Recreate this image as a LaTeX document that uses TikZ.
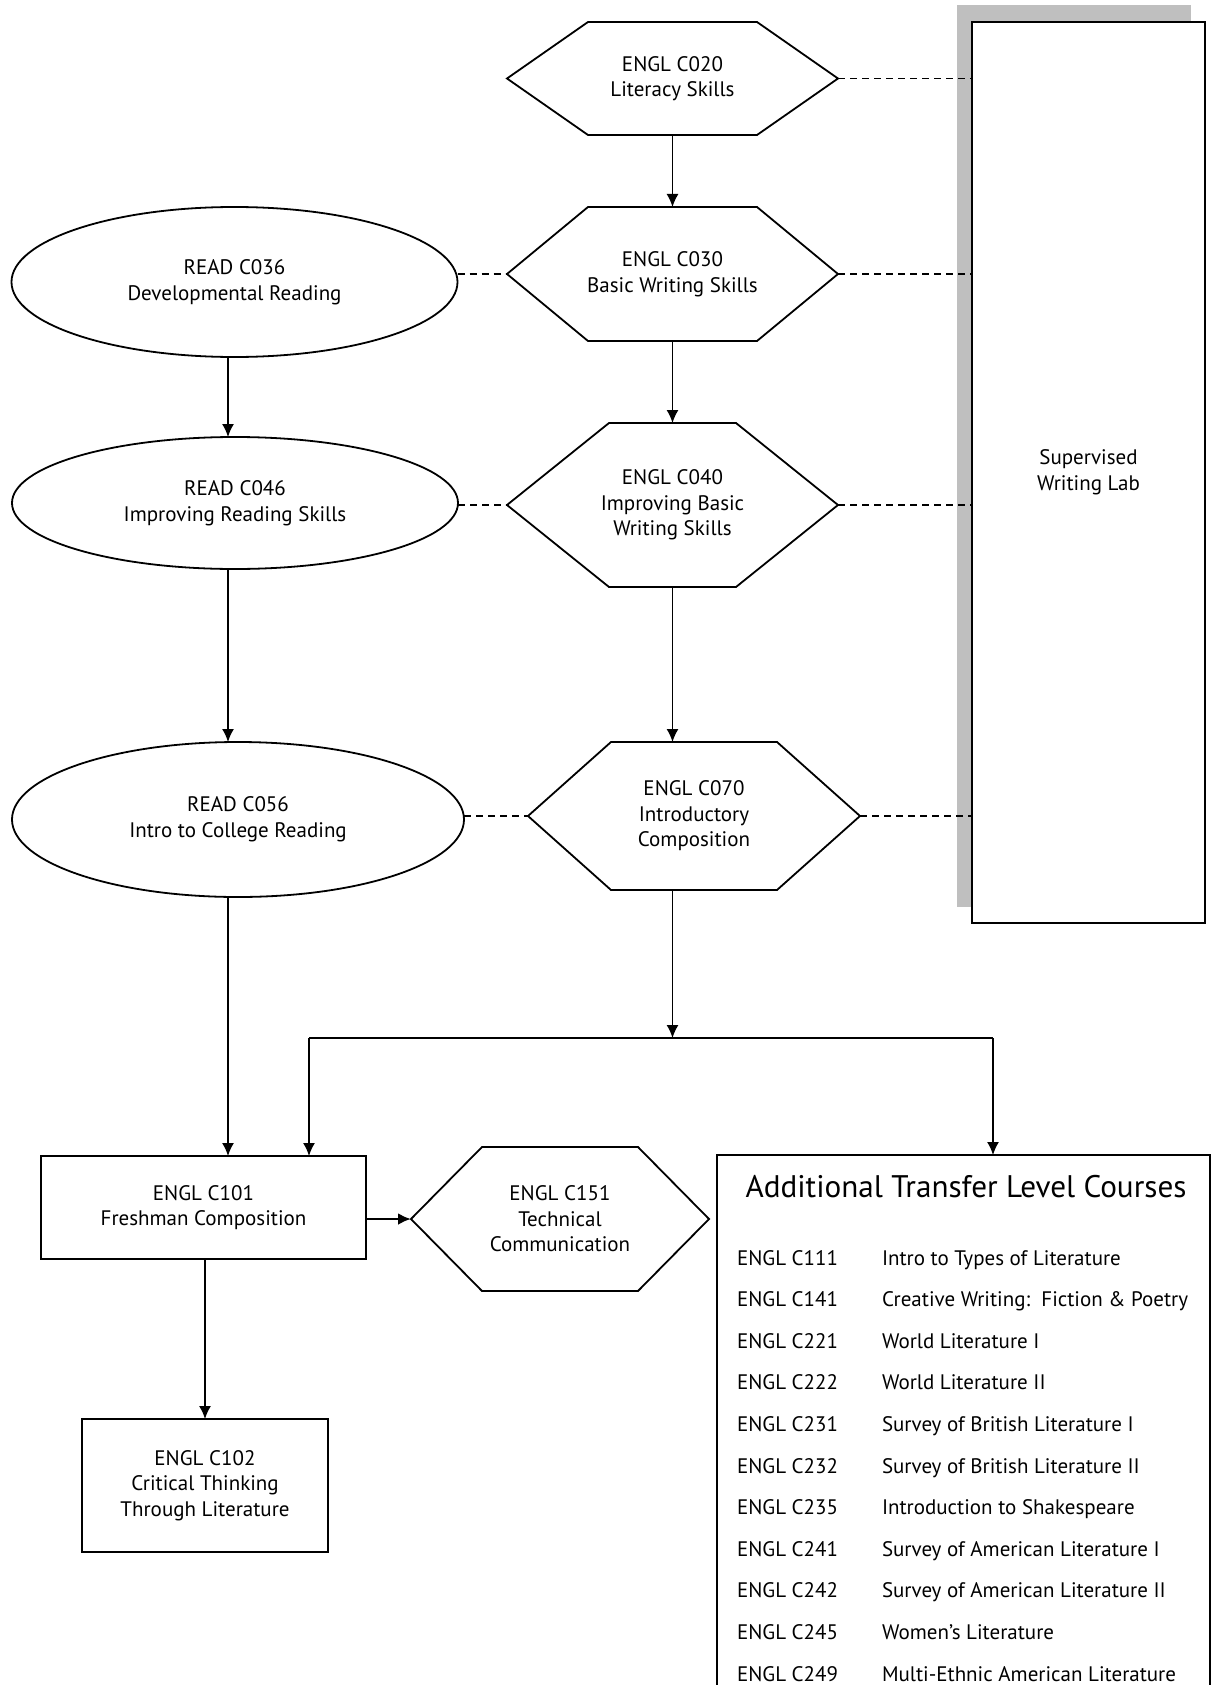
\documentclass[tikz,border=0pt]{standalone}
\usepackage{fontspec}
\setmainfont{PT Sans}
\usetikzlibrary{shapes.geometric,arrows.meta}
\newcommand\drawhex[2]{\draw[shapeline] ([xshift=#2]#1.north west) -- ([xshift=-#2]#1.north east) -- (#1.east) -- ([xshift=-#2]#1.south east) -- ([xshift=#2]#1.south west) -- (#1.west) -- cycle;}
\begin{document}
\begin{tikzpicture}[x=0.5pt,y=-0.5pt,
  font=\fontsize{10.5}{12.8}\selectfont,
  shapeline/.style={line width=0.9pt,fill=white},
  hexnode/.style={rectangle,inner sep=0pt,outer sep=0pt,align=center},
  hextext/.style={align=center,inner sep=0pt},
  ellnode/.style={ellipse,draw,line width=0.9pt,inner sep=0pt,outer sep=0pt,align=center},
  boxnode/.style={rectangle,draw,line width=0.9pt,inner sep=0pt,outer sep=0pt,align=center,fill=white},
  arr/.style={line width=0.75pt,-{Latex[length=6.5pt,width=6pt]}},
  link/.style={line width=0.75pt},
  dashlink/.style={line width=0.7pt,dash pattern=on 3.5pt off 2.5pt},
  rowtext/.style={anchor=base west,inner sep=0pt,outer sep=0pt}]
\useasboundingbox (0,0) rectangle (1213,1685);
\clip (0,0) rectangle (1213,1685);
\fill[white] (0,0) rectangle (1213,1685);

% Supervised Writing Lab with shadow
\fill[black!25] (957,5) rectangle (1191,907);
\node[boxnode,minimum width=116.5pt,minimum height=450.5pt] (lab) at (1088.5,472.5) {Supervised\\Writing Lab};

% hexagons (writing column)
\node[hexnode,minimum width=165.5pt,minimum height=56.5pt] (c020) at (672.5,78.5) {};
\drawhex{c020}{40.5pt}
\node[hextext] (t020) at (c020) {ENGL C020\\Literacy Skills};
\node[hexnode,minimum width=165.5pt,minimum height=67pt] (c030) at (672.5,274) {};
\drawhex{c030}{40.5pt}
\node[hextext] (t030) at (c030) {ENGL C030\\Basic Writing Skills};
\node[hexnode,minimum width=165.5pt,minimum height=82pt] (c040) at (672.5,505) {};
\drawhex{c040}{51pt}
\node[hextext] (t040) at (c040) {ENGL C040\\Improving Basic\\Writing Skills};
\node[hexnode,minimum width=166pt,minimum height=74pt] (c070) at (694,816) {};
\drawhex{c070}{41.5pt}
\node[hextext] (t070) at (c070) {ENGL C070\\Introductory\\Composition};
\node[hexnode,minimum width=149pt,minimum height=72pt] (c151) at (560,1219) {};
\drawhex{c151}{35.5pt}
\node[hextext] (t151) at (c151) {ENGL C151\\Technical\\Communication};

% reading column
\node[ellnode,minimum width=223pt,minimum height=75pt] (r036) at (234.5,282) {READ C036\\Developmental Reading};
\node[ellnode,minimum width=223pt,minimum height=66pt] (r046) at (235,503) {READ C046\\Improving Reading Skills};
\node[ellnode,minimum width=226pt,minimum height=77.5pt] (r056) at (238,819.5) {READ C056\\Intro to College Reading};

% transfer level
\node[boxnode,minimum width=162.5pt,minimum height=51.5pt] (c101) at (203.5,1207.5) {ENGL C101\\Freshman Composition};
\node[boxnode,minimum width=123pt,minimum height=66.5pt] (c102) at (205,1485.5) {ENGL C102\\Critical Thinking\\Through Literature};
\node[boxnode,minimum width=246.5pt,minimum height=272.5pt] (add) at (963.5,1427.5) {};
\node[anchor=base,inner sep=0pt,font=\fontsize{15.6}{18}\selectfont] (addtitle) at (966,1197) {Additional Transfer Level Courses};

\foreach \k/\code/\title in {0/C111/Intro to Types of Literature,
  1/C141/{Creative Writing:\ \ Fiction \& Poetry},
  2/C221/World Literature I,
  3/C222/World Literature II,
  4/C231/Survey of British Literature I,
  5/C232/Survey of British Literature II,
  6/C235/Introduction to Shakespeare,
  7/C241/Survey of American Literature I,
  8/C242/Survey of American Literature II,
  9/C245/Women’s Literature,
  10/C249/Multi-Ethnic American Literature}{
  \node[rowtext] (code\k) at (737,1265+41.6*\k) {ENGL \code};
  \node[rowtext] (title\k) at (882,1265+41.6*\k) {\title};
}

% coordinates for connectors
\coordinate (lx) at (228,0);
\coordinate (jn) at (672.5,1038);
\coordinate (jl) at (309,1038);
\coordinate (jr) at (993,1038);

% dashed links
\draw[dashlink] (c020.east) -- (c020.east -| lab.west);
\draw[dashlink] (c030.east) -- (c030.east -| lab.west);
\draw[dashlink] (c040.east) -- (c040.east -| lab.west);
\draw[dashlink] (c070.east) -- (c070.east -| lab.west);
\draw[dashlink] (r036.east |- c030.west) -- (c030.west);
\draw[dashlink] (r046.east |- c040.west) -- (c040.west);
\draw[dashlink] (r056.east |- c070.west) -- (c070.west);

% arrows
\draw[arr] (c020.south) -- (c030.north);
\draw[arr] (c030.south) -- (c040.north);
\draw[arr] (c040.south) -- (c040.south |- c070.north);
\draw[arr] (r036.south -| lx) -- (r046.north -| lx);
\draw[arr] (r046.south -| lx) -- (r056.north -| lx);
\draw[arr] (r056.south -| lx) -- (c101.north -| lx);
\draw[arr] (c070.south -| jn) -- (jn);
\draw[link] (jl) -- (jr);
\draw[arr] (jl) -- (jl |- c101.north);
\draw[arr] (jr) -- (jr |- add.north);
\draw[arr,line width=1.3pt] (c101.east |- c151.west) -- (c151.west);
\draw[arr] (c102.north |- c101.south) -- (c102.north);
\end{tikzpicture}
\end{document}
